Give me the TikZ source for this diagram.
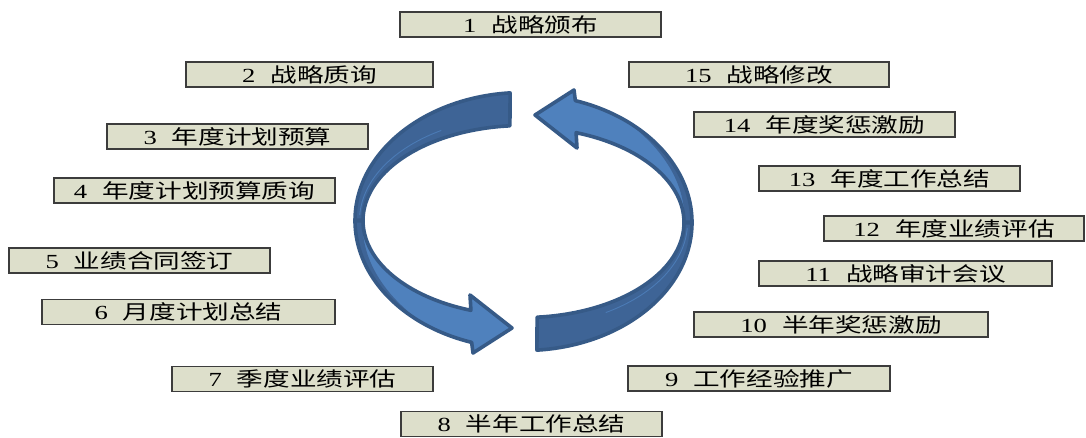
\documentclass[tikz,border=0pt]{standalone}
\usepackage{fontspec}
\newfontfamily\cjkf[FakeStretch=1.33]{Noto Sans CJK SC}
\newfontfamily\numf[FakeStretch=1.33]{Liberation Serif}
\definecolor{boxfill}{HTML}{DDDFCB}
\definecolor{boxline}{HTML}{3C3C3C}
\definecolor{rdark}{HTML}{3E6496}
\definecolor{rlight}{HTML}{4F81BD}
\definecolor{rline}{HTML}{365A87}
\newcommand\lab[2]{{\numf #1}\hspace{15pt}{\cjkf #2}}
\newcommand\ribbon{%
  % top (dark) piece
  \fill[rdark] plot[domain=265.6:180,samples=60] ({523+168*cos(\x)},{220.5+128*sin(\x)})
     -- plot[domain=180:265.3,samples=60] ({523+160*cos(\x)},{220.5+95*sin(\x)}) -- cycle;
  \draw[rlight!80!rdark,line width=0.9pt] plot[domain=240:183,samples=40] ({523+163.5*cos(\x)},{220.5+104*sin(\x)});
  % bottom (light) piece with head
  \fill[rlight] plot[domain=180:107.8,samples=60] ({523+168*cos(\x)},{220.5+128*sin(\x)})
     -- (473,353) -- (512,328) -- (470,295)
     -- plot[domain=109:180,samples=60] ({523+160*cos(\x)},{220.5+95*sin(\x)}) -- cycle;
  \fill[rdark] plot[domain=180:125,samples=50] ({523+168*cos(\x)},{220.5+128*sin(\x)})
     -- plot[domain=125:180,samples=50] ({523+(168-8*(\x-125)/55)*cos(\x)},{220.5+(128-16*(\x-125)/55)*sin(\x)}) -- cycle;
  % outlines
  \draw[rline,ribbonline] plot[domain=265.6:180,samples=60] ({523+168*cos(\x)},{220.5+128*sin(\x)})
     -- plot[domain=180:265.3,samples=60] ({523+160*cos(\x)},{220.5+95*sin(\x)}) -- cycle;
  \draw[rline,ribbonline] plot[domain=180:107.8,samples=60] ({523+168*cos(\x)},{220.5+128*sin(\x)})
     -- (473,353) -- (512,328) -- (470,295)
     -- plot[domain=109:180,samples=60] ({523+160*cos(\x)},{220.5+95*sin(\x)}) -- cycle;
}
\begin{document}
\begin{tikzpicture}[x=1pt,y=-1pt,
  lbl/.style={draw=boxline,fill=boxfill,line width=1.1pt,minimum height=25pt,
    inner sep=0pt,font=\fontsize{20}{22}\selectfont,text=black},
  ribbonline/.style={line width=3.6pt,line join=round}]
\useasboundingbox (0,0) rectangle (1086,437);
\ribbon
\begin{scope}[rotate around={180:(523.5,221.5)}]
\ribbon
\end{scope}
\node[lbl,minimum width=261pt] (b1)  at (530.5,24.5) {\lab{1}{战略颁布}};
\node[lbl,minimum width=247pt] (b2)  at (309.5,74.5) {\lab{2}{战略质询}};
\node[lbl,minimum width=261pt] (b3)  at (237.5,136.5) {\lab{3}{年度计划预算}};
\node[lbl,minimum width=281pt] (b4)  at (194.5,190.5) {\lab{4}{年度计划预算质询}};
\node[lbl,minimum width=261pt] (b5)  at (139.5,260.5) {\lab{5}{业绩合同签订}};
\node[lbl,minimum width=293pt] (b6)  at (188.5,312) {\lab{6}{月度计划总结}};
\node[lbl,minimum width=261pt] (b7)  at (302.5,379) {\lab{7}{季度业绩评估}};
\node[lbl,minimum width=261pt] (b8)  at (531.5,424) {\lab{8}{半年工作总结}};
\node[lbl,minimum width=262pt] (b9)  at (759,378.5) {\lab{9}{工作经验推广}};
\node[lbl,minimum width=294pt] (b10) at (841,324.5) {\lab{10}{半年奖惩激励}};
\node[lbl,minimum width=293pt] (b11) at (905.5,273.5) {\lab{11}{战略审计会议}};
\node[lbl,minimum width=260pt] (b12) at (954,228.5) {\lab{12}{年度业绩评估}};
\node[lbl,minimum width=261pt] (b13) at (889.5,178.5) {\lab{13}{年度工作总结}};
\node[lbl,minimum width=261pt] (b14) at (824.5,124.5) {\lab{14}{年度奖惩激励}};
\node[lbl,minimum width=260pt] (b15) at (759,74.5) {\lab{15}{战略修改}};
\end{tikzpicture}
\end{document}
